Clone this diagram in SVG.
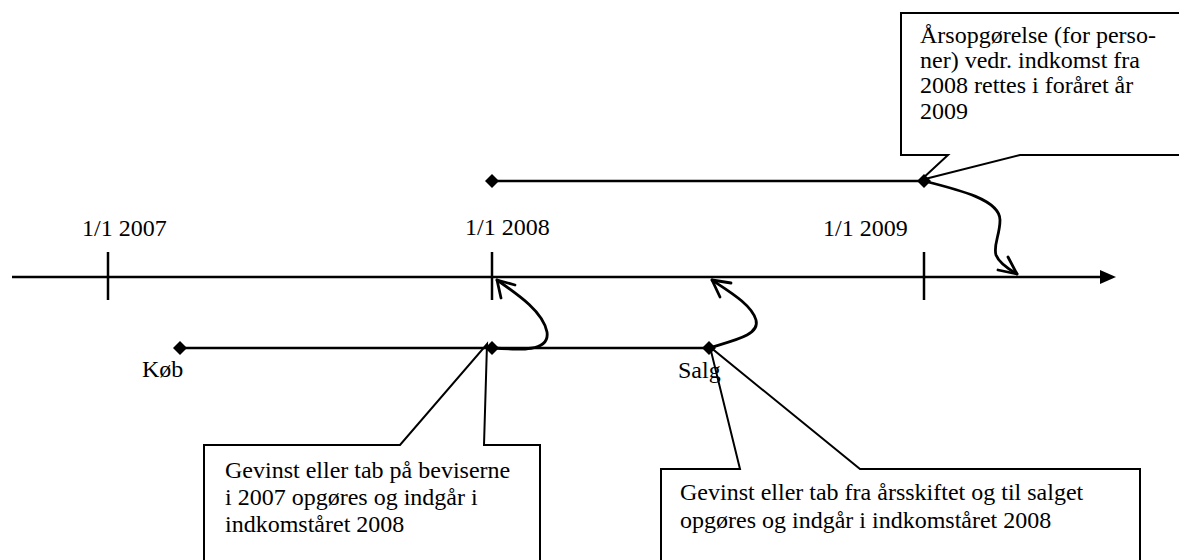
<svg xmlns="http://www.w3.org/2000/svg" width="1179" height="560" viewBox="0 0 1179 560">
<style>
.t{font-family:"Liberation Serif","Times New Roman","DejaVu Serif",serif;font-size:24px;fill:#000}
.ln{stroke:#000;stroke-width:2.5;fill:none}
.co{stroke:#000;stroke-width:2;fill:#fff;stroke-linejoin:miter}
.cv{stroke:#000;stroke-width:2.8;fill:none;stroke-linecap:round;stroke-linejoin:round}
</style>
<defs>
<path id="dia" d="M0,-7 L7,0 L0,7 L-7,0 Z" fill="#000"/>
</defs>
<rect width="1179" height="560" fill="#fff"/>
<g id="callout-top">
<polygon class="co" points="901,13 1190,13 1190,155 1020,155 921,180 948,155 901,155"/>
<text class="t" x="920" y="43">Årsopgørelse (for perso-</text>
<text class="t" x="920" y="68">ner) vedr. indkomst fra</text>
<text class="t" x="920" y="93">2008 rettes i foråret år</text>
<text class="t" x="920" y="119">2009</text>
</g>
<g id="callout-left">
<polygon class="co" points="204,445 400,445 487,344 484,445 540,445 540,570 204,570"/>
<text class="t" x="225" y="478">Gevinst eller tab på beviserne</text>
<text class="t" x="225" y="505">i 2007 opgøres og indgår i</text>
<text class="t" x="225" y="532">indkomståret 2008</text>
</g>
<g id="callout-right">
<polygon class="co" points="661,469 740,469 710,347 860,469 1140,469 1140,570 661,570"/>
<text class="t" x="680" y="500">Gevinst eller tab fra årsskiftet og til salget</text>
<text class="t" x="680" y="528">opgøres og indgår i indkomståret 2008</text>
</g>
<g id="axis">
<line class="ln" x1="12" y1="277" x2="1102" y2="277"/>
<polygon points="1100,270 1116,277 1100,284" fill="#000"/>
<line class="ln" x1="108" y1="252" x2="108" y2="300"/>
<line class="ln" x1="492" y1="252" x2="492" y2="300"/>
<line class="ln" x1="924" y1="252" x2="924" y2="300"/>
<text class="t" x="82" y="236">1/1 2007</text>
<text class="t" x="465" y="235">1/1 2008</text>
<text class="t" x="823" y="236">1/1 2009</text>
</g>
<g id="period-top">
<line class="ln" x1="492" y1="181" x2="924" y2="181"/>
<use href="#dia" x="492" y="181"/>
<use href="#dia" x="924" y="181"/>
</g>
<g id="period-bottom">
<line class="ln" x1="180" y1="348" x2="709" y2="348"/>
<use href="#dia" x="180" y="348"/>
<use href="#dia" x="492" y="348"/>
<use href="#dia" x="709" y="348"/>
<text class="t" x="142" y="377">Køb</text>
<text class="t" x="678" y="378">Salg</text>
</g>
<g id="connectors">
<path class="cv" d="M492,348 C520,350 550,352 547,332 C543,312 520,296 497,280"/>
<path class="cv" d="M515,285 L497,280 L501,298"/>
<path class="cv" d="M709,348 C735,340 760,335 756,320 C752,305 730,292 712,280"/>
<path class="cv" d="M731,283 L712,280 L720,297"/>
<path class="cv" d="M924,181 C960,190 1000,200 1000,220 C1000,235 993,245 996,255 C999,263 1010,270 1017,274"/>
<path class="cv" d="M998,270 L1017,274 L1008,257"/>
</g>
</svg>
